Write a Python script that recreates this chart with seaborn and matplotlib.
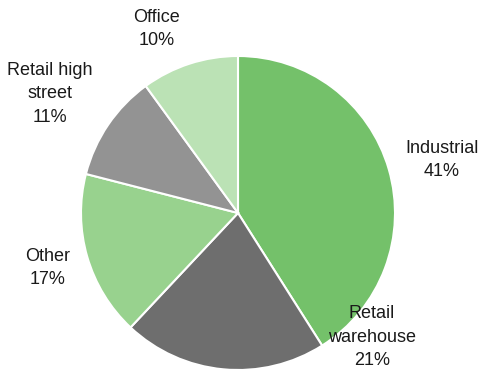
import matplotlib
matplotlib.use("Agg")
import matplotlib.pyplot as plt
import seaborn as sns

categories = ["Industrial", "Retail\nwarehouse", "Other", "Retail high\nstreet", "Office"]
values = [41, 21, 17, 11, 10]
colors = ["#74C16A", "#6E6E6E", "#98D28E", "#939393", "#BBE2B5"]

# label anchor positions (figure pixels, from top-left)
label_pos = [(442, 160), (372, 337), (48, 268), (50, 94), (157, 29)]

sns.set_theme(style="white")
plt.rcParams['font.family'] = ['Liberation Sans', 'DejaVu Sans']

W, H = 479, 372
fig = plt.figure(figsize=(W / 100, H / 100), dpi=100)
ax = fig.add_axes([0, 0, 1, 1])
ax.set_xlim(0, W)
ax.set_ylim(0, H)
ax.set_aspect('equal')
ax.axis('off')

palette = sns.color_palette(colors)
ax.pie(values, colors=palette, startangle=90, counterclock=False,
       center=(238, H - 213), radius=157,
       wedgeprops=dict(edgecolor='white', linewidth=1.5))
ax.set_xlim(0, W)
ax.set_ylim(0, H)

for cat, v, (px, py) in zip(categories, values, label_pos):
    ax.text(px, H - py, f"{cat}\n{v}%", ha='center', va='center',
            fontsize=13, color='#1a1a1a', linespacing=1.5)

fig.savefig("out.png", dpi=100)
